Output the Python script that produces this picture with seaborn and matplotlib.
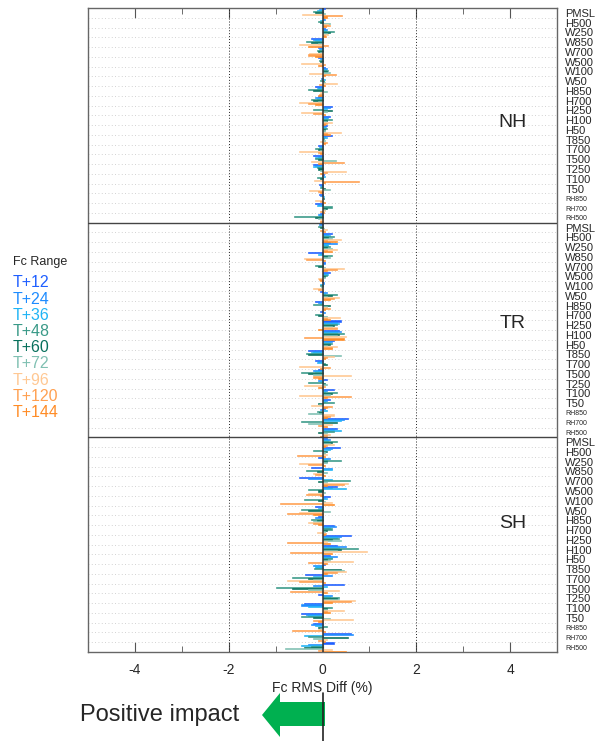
import numpy as np
import pandas as pd
import seaborn as sns
import matplotlib.pyplot as plt
from matplotlib.patches import Polygon
from matplotlib.lines import Line2D

sns.set_style("ticks")
plt.rcParams["font.family"] = ["Liberation Sans", "DejaVu Sans"]
plt.rcParams["axes.unicode_minus"] = False

# variables (same list in every region), forecast ranges and colours
variables = ["PMSL", "H500", "W250", "W850", "W700", "W500", "W100", "W50",
             "H850", "H700", "H250", "H100", "H50", "T850", "T700", "T500",
             "T250", "T100", "T50", "RH850", "RH700", "RH500"]
regions = ["NH", "TR", "SH"]
fc_ranges = ["T+12", "T+24", "T+36", "T+48", "T+60", "T+72", "T+96", "T+120", "T+144"]
fc_colors = ["#1f5fff", "#1e8cff", "#1fb4f5", "#3a9a88", "#08705c", "#80c0b2",
             "#ffc893", "#ffa050", "#ff8c26"]

# Fc RMS diff (%) per variable, one value per forecast range (estimated)
nh_vals = [
    [0.05, -0.08, -0.12, -0.2, -0.15, 0.05, -0.43, 0.42, 0.1],
    [0.03, 0.05, -0.05, -0.1, -0.05, 0.15, 0.12, 0.17, 0.08],
    [0.05, 0.1, 0.08, 0.25, 0.15, 0.1, 0.12, 0.05, 0.08],
    [-0.25, -0.2, -0.15, -0.35, -0.25, -0.1, -0.5, 0.12, -0.3],
    [-0.1, -0.05, -0.08, -0.12, -0.1, -0.05, -0.28, -0.3, -0.15],
    [-0.1, -0.05, -0.03, -0.08, -0.05, -0.02, -0.45, 0.05, -0.1],
    [0.05, 0.1, 0.08, 0.12, 0.1, 0.15, -0.28, 0.28, 0.05],
    [0.02, -0.03, 0.05, -0.05, 0.03, 0.05, 0.3, -0.07, 0.05],
    [-0.15, -0.1, -0.12, -0.3, -0.2, 0.1, -0.05, -0.08, -0.1],
    [-0.1, -0.15, -0.12, -0.25, -0.2, -0.1, -0.5, -0.3, -0.15],
    [0.2, 0.15, 0.1, -0.2, 0.2, 0.1, -0.45, -0.2, 0.05],
    [0.15, 0.12, 0.1, 0.2, 0.1, 0.08, 0.2, 0.1, 0.05],
    [0.1, 0.05, 0.08, 0.1, 0.05, 0.05, 0.4, 0.1, 0.15],
    [0.2, 0.05, 0.1, 0.03, 0.02, 0.05, -0.05, 0.1, 0.05],
    [-0.1, -0.05, -0.08, -0.15, -0.1, -0.05, -0.5, -0.1, -0.05],
    [-0.2, -0.1, -0.15, -0.15, -0.1, 0.28, -0.25, 0.45, -0.1],
    [-0.2, -0.15, -0.2, -0.12, -0.1, -0.05, 0.5, 0.1, -0.05],
    [0.03, -0.02, 0.05, -0.12, -0.05, 0.02, -0.18, 0.78, 0.05],
    [-0.08, -0.05, -0.03, -0.05, 0.05, 0.17, -0.28, -0.1, -0.05],
    [-0.08, -0.05, 0.03, 0.02, 0.03, -0.02, -0.15, -0.05, 0.05],
    [-0.15, -0.1, -0.12, 0.2, 0.1, 0.05, 0.05, -0.05, 0.03],
    [-0.05, -0.1, -0.08, -0.6, -0.15, -0.1, -0.05, 0.02, -0.05],
]
tr_vals = [
    [-0.05, -0.08, 0.02, -0.1, -0.05, 0.03, 0.1, -0.05, 0.05],
    [0.2, 0.12, 0.15, 0.25, 0.12, 0.2, 0.4, 0.1, 0.3],
    [0.15, 0.3, 0.12, 0.15, 0.1, 0.2, 0.3, 0.1, 0.2],
    [-0.3, -0.05, -0.1, 0.2, 0.1, 0.15, -0.4, -0.35, 0.05],
    [0.05, 0.05, 0.02, -0.15, -0.1, 0.05, 0.45, 0.3, 0.1],
    [0.15, 0.1, 0.12, 0.1, 0.05, 0.05, -0.1, -0.08, -0.05],
    [-0.02, 0.03, -0.05, -0.05, 0.02, -0.03, -0.2, -0.1, 0.02],
    [-0.05, 0.1, 0.05, 0.3, 0.2, 0.1, 0.35, 0.25, 0.15],
    [-0.15, -0.1, -0.05, -0.2, 0.15, 0.1, 0.1, 0.15, 0.05],
    [-0.05, 0.05, 0.02, -0.15, -0.1, 0.1, 0.38, 0.1, 0.15],
    [0.4, 0.3, 0.35, 0.3, 0.25, 0.2, 0.3, 0.3, -0.1],
    [0.35, 0.4, 0.3, 0.45, 0.35, 0.3, 0.5, -0.4, 0.45],
    [0.25, 0.2, 0.15, 0.2, 0.15, 0.1, 0.3, 0.2, 0.2],
    [-0.3, -0.2, -0.25, -0.35, -0.3, 0.4, 0.25, 0.1, 0.05],
    [-0.15, -0.1, -0.12, 0.05, 0.1, 0.02, -0.5, 0.15, -0.05],
    [-0.1, -0.2, -0.15, -0.45, -0.3, -0.2, 0.6, -0.2, -0.1],
    [0.1, -0.1, -0.05, -0.3, 0.05, 0.1, -0.4, 0.05, -0.1],
    [0.25, 0.1, 0.05, 0.3, 0.2, 0.15, -0.5, 0.6, 0.1],
    [0.15, 0.1, 0.05, 0.25, -0.1, -0.08, -0.25, 0.2, 0.1],
    [0.05, -0.05, 0.1, -0.12, -0.08, -0.3, 0.25, 0.15, 0.1],
    [0.55, 0.45, 0.4, -0.45, 0.3, -0.3, 0.2, -0.1, 0.1],
    [0.3, 0.25, 0.4, 0.25, -0.1, 0.1, 0.15, 0.1, -0.05],
]
sh_vals = [
    [0.1, 0.15, 0.12, 0.3, 0.2, 0.15, 0.25, 0.1, 0.05],
    [0.38, 0.2, 0.15, -0.2, 0.1, 0.05, 0.1, -0.55, 0.05],
    [-0.1, 0.15, 0.1, 0.4, 0.1, 0.1, -0.5, -0.3, 0.05],
    [-0.25, 0.2, 0.2, -0.35, -0.12, 0.1, -0.2, -0.15, 0.05],
    [-0.5, -0.3, 0.2, 0.58, -0.1, 0.1, 0.55, 0.45, 0.1],
    [0.3, 0.2, 0.5, -0.3, -0.1, 0.05, -0.3, -0.35, -0.05],
    [0.15, 0.05, 0.1, -0.4, -0.1, 0.05, 0.2, -0.9, 0.25],
    [-0.15, -0.05, -0.1, -0.45, -0.3, 0.15, -0.5, -0.75, -0.2],
    [-0.1, -0.15, -0.05, -0.25, -0.12, -0.2, -0.3, -0.2, -0.1],
    [0.25, 0.28, 0.15, 0.2, 0.1, 0.05, -0.12, 0.08, 0.05],
    [0.6, 0.4, 0.3, 0.35, 0.2, 0.4, 0.1, -0.75, 0.15],
    [0.3, 0.5, 0.35, 0.75, 0.4, 0.3, 0.95, -0.7, 0.2],
    [0.15, 0.3, 0.2, 0.2, 0.1, 0.15, 0.65, -0.3, 0.1],
    [0.05, -0.2, -0.15, -0.18, 0.4, 0.45, 0.5, 0.3, 0.1],
    [-0.38, 0.2, -0.2, -0.65, -0.3, -0.2, -0.75, -0.5, 0.05],
    [0.45, -0.2, 0.1, -1.0, -0.65, -0.3, 0.35, -0.7, 0.1],
    [-0.1, 0.2, 0.15, 0.35, 0.3, 0.35, 0.7, 0.6, 0.2],
    [-0.4, -0.45, -0.3, 0.2, 0.1, 0.1, 0.45, 0.1, 0.15],
    [-0.45, -0.35, -0.3, -0.45, -0.2, 0.15, 0.65, -0.2, -0.1],
    [-0.2, -0.25, -0.15, 0.1, -0.1, -0.05, -0.1, -0.65, 0.05],
    [0.6, 0.65, -0.4, -0.3, 0.55, -0.2, 0.1, -0.1, 0.05],
    [0.25, -0.3, -0.45, -0.25, -0.4, -0.8, 0.2, -0.1, 0.5],
]

# long table for seaborn
records = []
row_ids = []
for reg, vals in zip(regions, [nh_vals, tr_vals, sh_vals]):
    for var, row in zip(variables, vals):
        rid = reg + " " + var
        row_ids.append(rid)
        for fc, v in zip(fc_ranges, row):
            records.append({"row": rid, "fc": fc, "diff": v})
df = pd.DataFrame(records)

fig, ax = plt.subplots(figsize=(5.95, 7.41), dpi=100)
fig.subplots_adjust(left=88/595, right=557/595, top=1-8/741, bottom=1-652/741)

sns.barplot(data=df, x="diff", y="row", hue="fc", order=row_ids,
            hue_order=fc_ranges, palette=fc_colors, orient="h", width=0.95,
            saturation=1, legend=False, ax=ax, zorder=3)
# thicken the very thin bars a little with an edge of the same colour
for p in ax.patches:
    p.set_edgecolor(p.get_facecolor())
    p.set_linewidth(0.45)

n = len(row_ids)
ax.set_xlim(-5, 5)
ax.set_ylim(n - 0.5, -0.5)

# row separators and region boundaries
for b in np.arange(0.5, n - 1, 1):
    if b in (21.5, 43.5):
        ax.axhline(b, color="#444444", lw=1.0, zorder=4)
    else:
        ax.axhline(b, color="#c4c4c4", ls=(0, (1, 3)), lw=0.6, zorder=1)
for gx in (-2, 2):
    ax.axvline(gx, color="#222222", ls=(0, (1, 2)), lw=0.7, zorder=1)
ax.axvline(0, color="#333333", lw=1.1, zorder=5)

# region labels
ax.text(4.05, 11.2, "NH", fontsize=14, ha="center", va="center")
ax.text(4.05, 31.8, "TR", fontsize=14, ha="center", va="center")
ax.text(4.05, 52.3, "SH", fontsize=14, ha="center", va="center")

# axes ticks
ax.set_xticks([-4, -2, 0, 2, 4])
ax.set_xticks([-3, -1, 1, 3], minor=True)
ax.tick_params(axis="x", which="both", direction="in", top=True, bottom=True,
               labelsize=10, pad=8, color="#555555")
ax.tick_params(axis="x", which="major", length=7)
ax.tick_params(axis="x", which="minor", length=4)

ax.yaxis.tick_right()
ax.set_yticks(range(n))
ax.set_yticklabels([r.split(" ")[1] for r in row_ids])
ax.tick_params(axis="y", length=0, pad=6, labelsize=8)
for lab in ax.get_yticklabels():
    if lab.get_text().startswith("RH"):
        lab.set_fontsize(5)

ax.set_ylabel("")
ax.set_xlabel("Fc RMS Diff (%)", fontsize=10, labelpad=3)
for sp in ax.spines.values():
    sp.set_visible(True)
    sp.set_color("#666666")
    sp.set_linewidth(1.0)

# legend as coloured text on the left
fig.text(13/595, 1-262/741, "Fc Range", fontsize=9, va="center", ha="left")
for i, (fc, c) in enumerate(zip(fc_ranges, fc_colors)):
    fig.text(13/595, 1-(283 + i*16.2)/741, fc, color=c, fontsize=11.5,
             va="center", ha="left")

# "Positive impact" arrow under the axis
def fxy(px, py):
    return (px/595, 1 - py/741)

arrow = Polygon([fxy(325, 702), fxy(280, 702), fxy(280, 693), fxy(262, 715),
                 fxy(280, 737), fxy(280, 726), fxy(325, 726)],
                closed=True, transform=fig.transFigure, facecolor="#00b050",
                edgecolor="none")
fig.add_artist(arrow)
fig.add_artist(Line2D([323/595, 323/595], [1-693/741, 0], transform=fig.transFigure,
                      color="#222222", lw=1.2))
fig.text(80/595, 1-715/741, "Positive impact", fontsize=17, va="center", ha="left")

fig.savefig("out.png", dpi=100)
